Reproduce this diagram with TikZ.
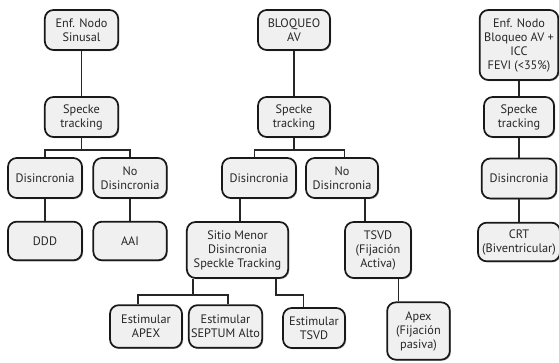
\documentclass[tikz,border=0pt]{standalone}
\usepackage{fontspec}
\setmainfont{PT Sans}
\usetikzlibrary{shadows}
\tikzset{
  caja/.style={draw=black!90, line width=1.3pt, rounded corners=6.5pt, fill=black!6,
    align=center, inner sep=1pt, text=black!85,
    font=\fontsize{9.2}{10.5}\selectfont,
    drop shadow={shadow xshift=0.8pt, shadow yshift=-0.8pt, fill=black!60, opacity=0.5}},
  linea/.style={line width=1.2pt, draw=black!85}
}
\begin{document}
\begin{tikzpicture}[x=0.75pt,y=-0.75pt]
	    \useasboundingbox (0,0) rectangle (559,363);
	    % columna 1
	    \node[caja, minimum width=55pt, minimum height=30pt] (n1) at (81.5,30) {Enf. Nodo\\Sinusal};
	    \node[caja, minimum width=55pt, minimum height=30pt] (s1) at (81.5,117) {Specke\\tracking};
	    \node[caja, minimum width=55.5pt, minimum height=30pt] (d1) at (45,178) {Disincronia};
	    \node[caja, minimum width=55pt, minimum height=30pt] (nd1) at (130,178) {No\\Disincronia};
	    \node[caja, minimum width=55.5pt, minimum height=29pt] (ddd) at (45,241) {DDD};
	    \node[caja, minimum width=55pt, minimum height=29pt] (aai) at (130,241) {AAI};
	    \coordinate (b1) at (81.5,150);
	    \draw[linea] (n1) -- (s1);
	    \draw[linea] (s1) -- (b1);
	    \draw[linea] (d1.north) |- (b1) -| (nd1.north);
	    \draw[linea] (d1) -- (ddd);
	    \draw[linea] (nd1) -- (aai);
	    % columna 2
	    \node[caja, minimum width=54pt, minimum height=30pt] (b2) at (294,30) {BLOQUEO\\AV};
	    \node[caja, minimum width=54pt, minimum height=30pt] (s2) at (294,117) {Specke\\tracking};
	    \node[caja, minimum width=55.5pt, minimum height=30pt] (d2) at (259,178) {Disincronia};
	    \node[caja, minimum width=54pt, minimum height=30pt] (nd2) at (342,178) {No\\Disincronia};
	    \node[caja, minimum width=76pt, minimum height=42pt] (sitio) at (237.5,250) {Sitio Menor\\Disincronia\\Speckle Tracking};
	    \node[caja, minimum width=49.5pt, minimum height=42pt] (tsvd) at (378,250) {TSVD\\(Fijación\\Activa)};
	    \node[caja, minimum width=54pt, minimum height=32pt] (ea) at (146,326.5) {Estimular\\APEX};
	    \node[caja, minimum width=55pt, minimum height=32pt] (es) at (225.5,326.5) {Estimular\\SEPTUM Alto};
	    \node[caja, minimum width=46.5pt, minimum height=30pt] (et) at (314,328) {Estimular\\TSVD};
	    \node[caja, minimum width=47pt, minimum height=43pt] (apx) at (418.5,331) {Apex\\(Fijación\\pasiva)};
	    \coordinate (b2a) at (294,150);
	    \coordinate (b3) at (193,295);
	    \coordinate (b4) at (276,295);
	    \draw[linea] (b2) -- (s2);
	    \draw[linea] (s2) -- (b2a);
	    \draw[linea] ([xshift=-3.5pt]d2.north) |- (b2a) -| ([xshift=2pt]nd2.north);
	    \draw[linea] ([xshift=2pt]sitio.north) -- ([xshift=2pt]sitio.north |- d2.south);
	    \draw[linea] ([xshift=-9.75pt]tsvd.north) -- ([xshift=-9.75pt]tsvd.north |- nd2.south);
	    \draw[linea] ([xshift=-15pt]apx.north) -- ([xshift=-15pt]apx.north |- tsvd.south);
	    \draw[linea] (b3 |- sitio.south) -- (b3);
	    \draw[linea] ([xshift=-6pt]ea.north) |- (b3) -| ([xshift=2pt]es.north);
	    \draw[linea] (b4 |- sitio.south) -- (b4) -| ([xshift=-8pt]et.north);
	    % columna 3
	    \node[caja, minimum width=59pt, minimum height=52.5pt] (t3) at (519,45) {Enf. Nodo\\Bloqueo AV +\\ICC\\FEVI (<35\%)};
	    \node[caja, minimum width=52.5pt, minimum height=30pt] (s3) at (519,117) {Specke\\tracking};
	    \node[caja, minimum width=56pt, minimum height=30pt] (d3) at (519,178.5) {Disincronia};
	    \node[caja, minimum width=61.5pt, minimum height=29pt] (crt) at (519,242) {CRT\\(Biventricular)};
	    \draw[linea] (t3) -- (s3);
	    \draw[linea] (s3) -- (d3);
	    \draw[linea] (d3) -- (crt);
	\end{tikzpicture}
\end{document}
